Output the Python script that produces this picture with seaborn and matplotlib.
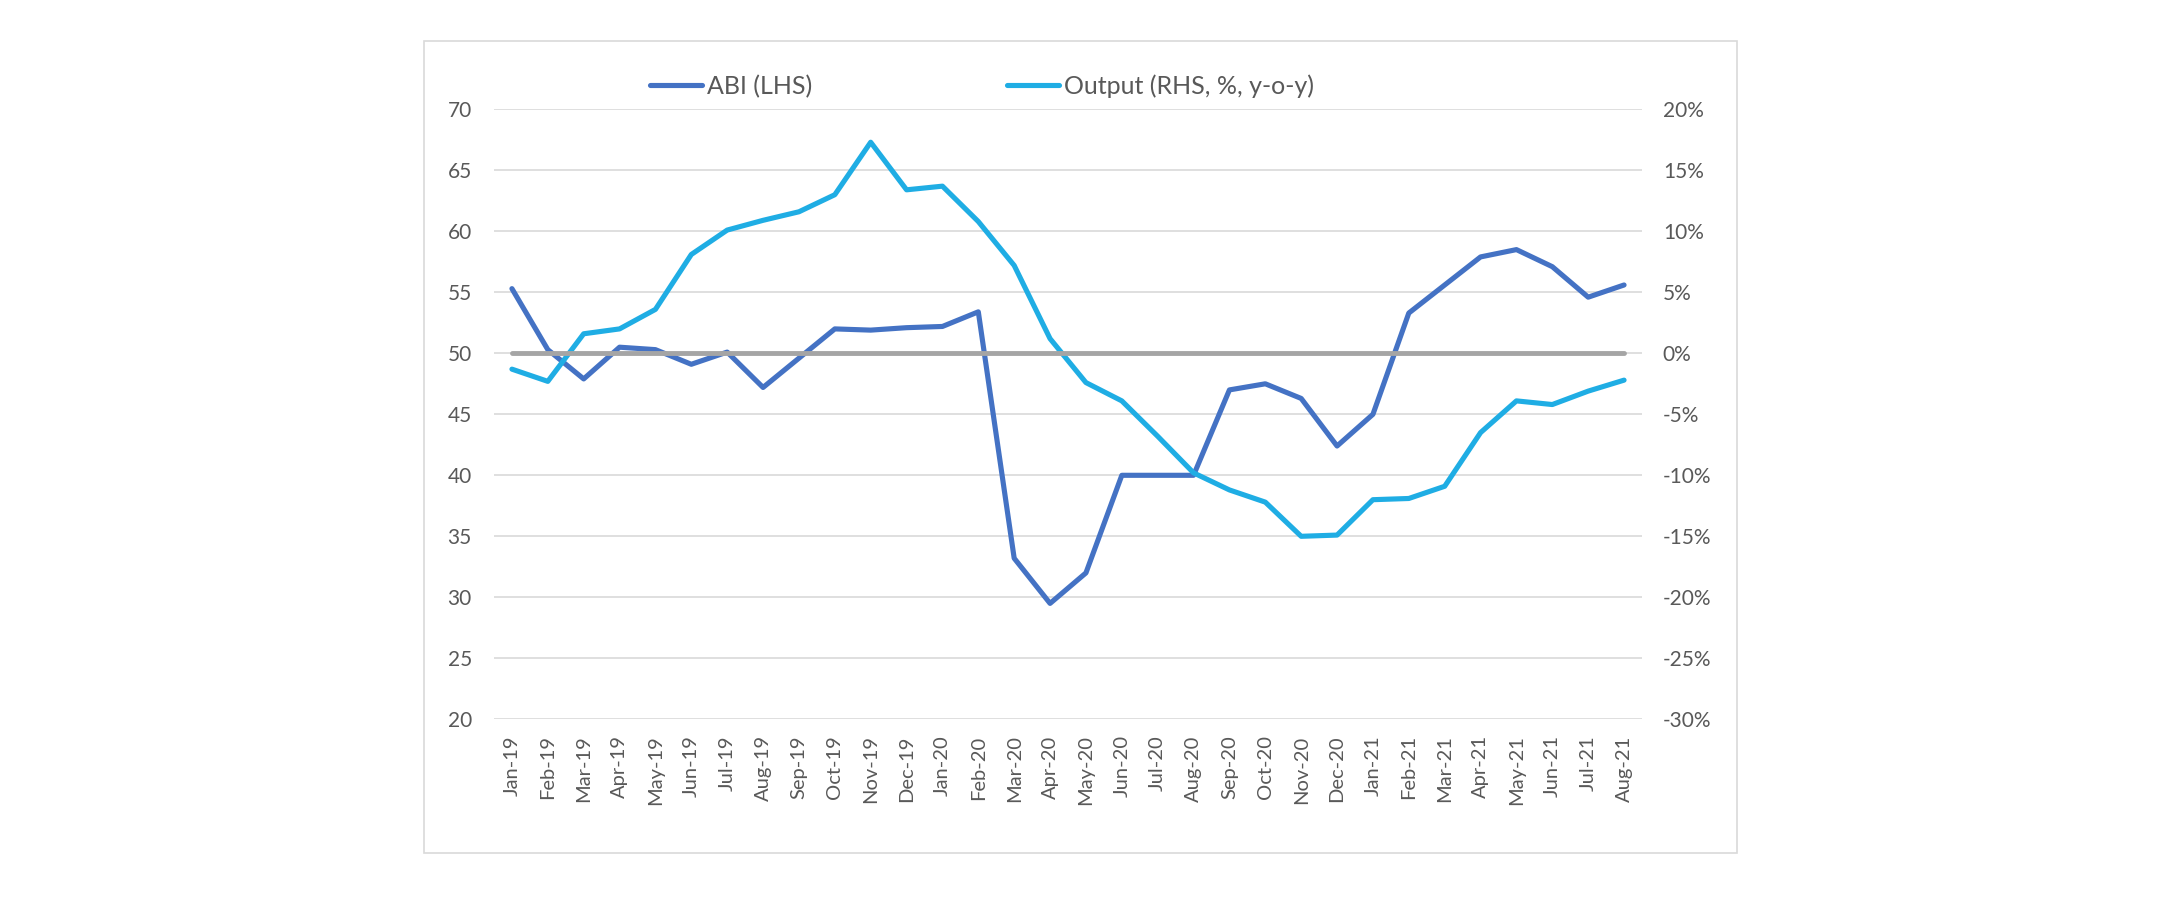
import matplotlib
matplotlib.use("Agg")
import matplotlib.pyplot as plt
import matplotlib.ticker as mticker
from matplotlib.patches import Rectangle
import seaborn as sns
import pandas as pd

# ---------------- data ----------------
MONTHS = ["Jan-19", "Feb-19", "Mar-19", "Apr-19", "May-19", "Jun-19", "Jul-19", "Aug-19",
          "Sep-19", "Oct-19", "Nov-19", "Dec-19", "Jan-20", "Feb-20", "Mar-20", "Apr-20",
          "May-20", "Jun-20", "Jul-20", "Aug-20", "Sep-20", "Oct-20", "Nov-20", "Dec-20",
          "Jan-21", "Feb-21", "Mar-21", "Apr-21", "May-21", "Jun-21", "Jul-21", "Aug-21"]

ABI = [55.3, 50.3, 47.9, 50.5, 50.3, 49.1, 50.1, 47.2,
       49.6, 52.0, 51.9, 52.1, 52.2, 53.4, 33.2, 29.5,
       32.0, 40.0, 40.0, 40.0, 47.0, 47.5, 46.3, 42.4,
       45.0, 53.3, 55.6, 57.9, 58.5, 57.1, 54.6, 55.6]

OUTPUT = [-1.3, -2.3, 1.6, 2.0, 3.6, 8.1, 10.1, 10.9,
          11.6, 13.0, 17.3, 13.4, 13.7, 10.8, 7.2, 1.2,
          -2.4, -3.9, -6.8, -9.8, -11.2, -12.2, -15.0, -14.9,
          -12.0, -11.9, -10.9, -6.5, -3.9, -4.2, -3.1, -2.2]

NEUTRAL_PCT = [0] * len(MONTHS)   # the 50 / 0% threshold line

LEFT_TICKS = [20, 25, 30, 35, 40, 45, 50, 55, 60, 65, 70]
RIGHT_TICKS = [-30, -25, -20, -15, -10, -5, 0, 5, 10, 15, 20]

LABEL_ABI = "ABI (LHS)"
LABEL_OUT = "Output (RHS, %, y-o-y)"

# ---------------- style ----------------
sns.set_theme(style="white")
plt.rcParams['font.family'] = ['Lato', 'DejaVu Sans']

TEXT = "#595959"
C_ABI = "#4472C4"
C_OUT = "#1FADE4"
C_NEU = "#A5A5A5"
GRID = "#D9D9D9"

W, H = 2163, 897
fig = plt.figure(figsize=(W / 100, H / 100), dpi=100)
fig.patch.set_facecolor("white")

# outer chart border
fig.add_artist(Rectangle((424 / W, 1 - 853 / H), (1737 - 424) / W, (853 - 41) / H,
                         transform=fig.transFigure, fill=False, edgecolor=GRID, linewidth=1.2))

ax = fig.add_axes([494 / W, 1 - 719.3 / H, (1642 - 494) / W, 610 / H])
ax2 = ax.twinx()

df = pd.DataFrame({"x": list(range(len(MONTHS))), "month": MONTHS,
                   "ABI": ABI, "Output": OUTPUT, "Neutral": NEUTRAL_PCT})

sns.lineplot(data=df, x="x", y="ABI", ax=ax, color=C_ABI, linewidth=3.7,
             solid_capstyle="round", solid_joinstyle="round", label=LABEL_ABI, legend=False)
sns.lineplot(data=df, x="x", y="Output", ax=ax2, color=C_OUT, linewidth=3.7,
             solid_capstyle="round", solid_joinstyle="round", label=LABEL_OUT, legend=False)
sns.lineplot(data=df, x="x", y="Neutral", ax=ax2, color=C_NEU, linewidth=3.5,
             solid_capstyle="round", legend=False)

ax.set_xlim(-0.5, len(MONTHS) - 0.5)
ax.set_ylim(LEFT_TICKS[0], LEFT_TICKS[-1])
ax2.set_ylim(RIGHT_TICKS[0], RIGHT_TICKS[-1])
ax.set_yticks(LEFT_TICKS)
ax2.set_yticks(RIGHT_TICKS)
ax2.yaxis.set_major_formatter(mticker.FuncFormatter(lambda v, p: f"{v:.0f}%"))

ax.set_xticks(range(len(MONTHS)))
ax.set_xticklabels(MONTHS, rotation=90)

ax.grid(axis="y", color=GRID, linewidth=1.2)
ax.grid(axis="x", visible=False)
ax2.grid(False)
ax.set_axisbelow(True)

for a in (ax, ax2):
    for s in a.spines.values():
        s.set_visible(False)
    a.set_xlabel("")
    a.set_ylabel("")

ax.tick_params(axis="x", length=0, pad=11.5, labelsize=14.5, labelcolor=TEXT)
ax.tick_params(axis="y", length=0, pad=16, labelsize=15, labelcolor=TEXT)
ax2.tick_params(axis="y", length=0, pad=15, labelsize=15, labelcolor=TEXT)

h1, l1 = ax.get_legend_handles_labels()
h2, l2 = ax2.get_legend_handles_labels()
fig.legend(h1 + h2, l1 + l2, loc="center", bbox_to_anchor=(982 / W, 1 - 86 / H),
           ncol=2, frameon=False, fontsize=18, labelcolor=TEXT,
           handlelength=2.08, handletextpad=0.18, columnspacing=7.8, borderpad=0)

fig.savefig("out.png", dpi=100, facecolor="white")
